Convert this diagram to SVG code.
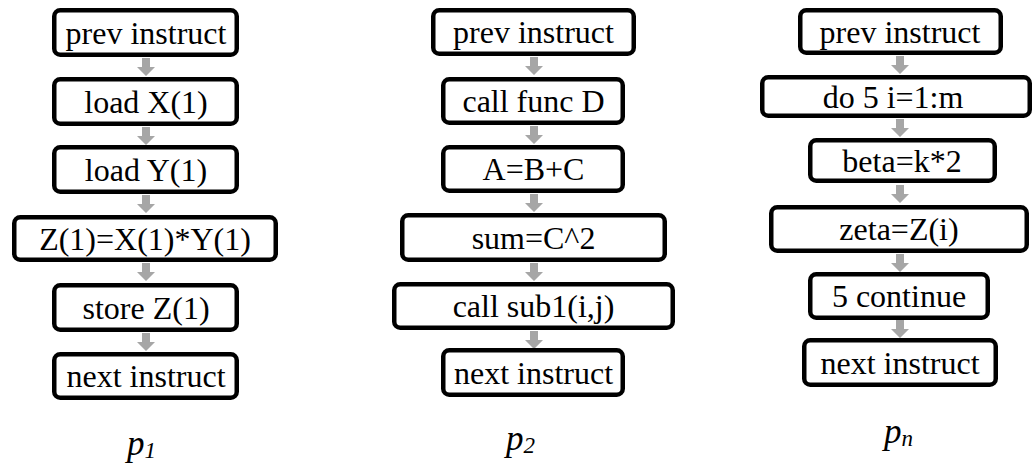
<svg xmlns="http://www.w3.org/2000/svg" width="1034" height="464" viewBox="0 0 1034 464">
<style>
.box{fill:#fff;stroke:#000;stroke-width:4.5}
.t{font-family:"Liberation Serif","Times New Roman",serif;font-size:32px;text-anchor:middle;fill:#000}
.lbl{font-family:"Liberation Serif","Times New Roman",serif;font-style:italic;font-size:35px;fill:#000}
.arr{fill:#a6a6a6}
</style>
<defs>
<path id="ar" d="M-4,0 H4 V9 H9 L0,18 L-9,9 H-4 Z"/>
</defs>
<rect width="1034" height="464" fill="#fff"/>
<g id="connectors" class="arr">
<use href="#ar" x="146" y="58"/>
<use href="#ar" x="146" y="127"/>
<use href="#ar" x="146" y="195"/>
<use href="#ar" x="146" y="263"/>
<use href="#ar" x="146" y="333"/>
<use href="#ar" x="534" y="57"/>
<use href="#ar" x="534" y="126"/>
<use href="#ar" x="534" y="194"/>
<use href="#ar" x="534" y="263"/>
<use href="#ar" x="534" y="331"/>
<use href="#ar" x="900" y="56"/>
<use href="#ar" x="900" y="119"/>
<use href="#ar" x="900" y="185"/>
<use href="#ar" x="900" y="254"/>
<use href="#ar" x="900" y="320"/>
</g>
<g id="p1-prev"><rect class="box" x="54.25" y="10.25" width="182.5" height="44.5" rx="6"/><text class="t" x="146" y="43.5">prev instruct</text></g>
<g id="p1-loadx"><rect class="box" x="54.25" y="79.25" width="182.5" height="44.5" rx="6"/><text class="t" x="146" y="112.5">load X(1)</text></g>
<g id="p1-loady"><rect class="box" x="54.25" y="147.25" width="182.5" height="44.5" rx="6"/><text class="t" x="146" y="180.5">load Y(1)</text></g>
<g id="p1-mul"><rect class="box" x="14.25" y="217.25" width="261.5" height="42.5" rx="6"/><text class="t" x="145" y="249.5">Z(1)=X(1)*Y(1)</text></g>
<g id="p1-store"><rect class="box" x="54.25" y="285.25" width="182.5" height="44.5" rx="6"/><text class="t" x="146" y="318.5">store Z(1)</text></g>
<g id="p1-next"><rect class="box" x="54.25" y="354.25" width="182.5" height="43.5" rx="6"/><text class="t" x="146" y="387">next instruct</text></g>

<g id="p2-prev"><rect class="box" x="433.25" y="10.25" width="200.5" height="43.5" rx="6"/><text class="t" x="533.5" y="43">prev instruct</text></g>
<g id="p2-call"><rect class="box" x="443.25" y="79.25" width="179.5" height="43.5" rx="6"/><text class="t" x="533.5" y="112">call func D</text></g>
<g id="p2-abc"><rect class="box" x="443.25" y="147.25" width="179.5" height="43.5" rx="6"/><text class="t" x="533.5" y="180">A=B+C</text></g>
<g id="p2-sum"><rect class="box" x="402.25" y="215.25" width="262.5" height="44.5" rx="6"/><text class="t" x="533.5" y="248.5">sum=C^2</text></g>
<g id="p2-sub"><rect class="box" x="394.25" y="284.25" width="278.5" height="43.5" rx="6"/><text class="t" x="533.5" y="317">call sub1(i,j)</text></g>
<g id="p2-next"><rect class="box" x="443.25" y="350.25" width="179.5" height="44.5" rx="6"/><text class="t" x="533.5" y="383.5">next instruct</text></g>

<g id="pn-prev"><rect class="box" x="800.25" y="10.25" width="200.5" height="42.5" rx="6"/><text class="t" x="900" y="42.5">prev instruct</text></g>
<g id="pn-do"><rect class="box" x="762.25" y="77.25" width="267.5" height="38.5" rx="6"/><text class="t" x="893" y="107.5">do 5 i=1:m</text></g>
<g id="pn-beta"><rect class="box" x="810.25" y="140.25" width="184.5" height="40.5" rx="6"/><text class="t" x="902" y="171.5">beta=k*2</text></g>
<g id="pn-zeta"><rect class="box" x="771.25" y="207.25" width="255.5" height="43.5" rx="6"/><text class="t" x="899" y="240">zeta=Z(i)</text></g>
<g id="pn-cont"><rect class="box" x="810.25" y="274.25" width="177.5" height="43.5" rx="6"/><text class="t" x="899" y="307">5 continue</text></g>
<g id="pn-next"><rect class="box" x="804.25" y="340.25" width="191.5" height="44.5" rx="6"/><text class="t" x="900" y="373.5">next instruct</text></g>

<g id="labels">
<text class="lbl" x="127" y="455">p<tspan font-size="23" dy="3">1</tspan></text>
<text class="lbl" x="506" y="450">p<tspan font-size="23" dy="3">2</tspan></text>
<text class="lbl" x="884" y="443">p<tspan font-size="23" dy="3">n</tspan></text>
</g>
</svg>
